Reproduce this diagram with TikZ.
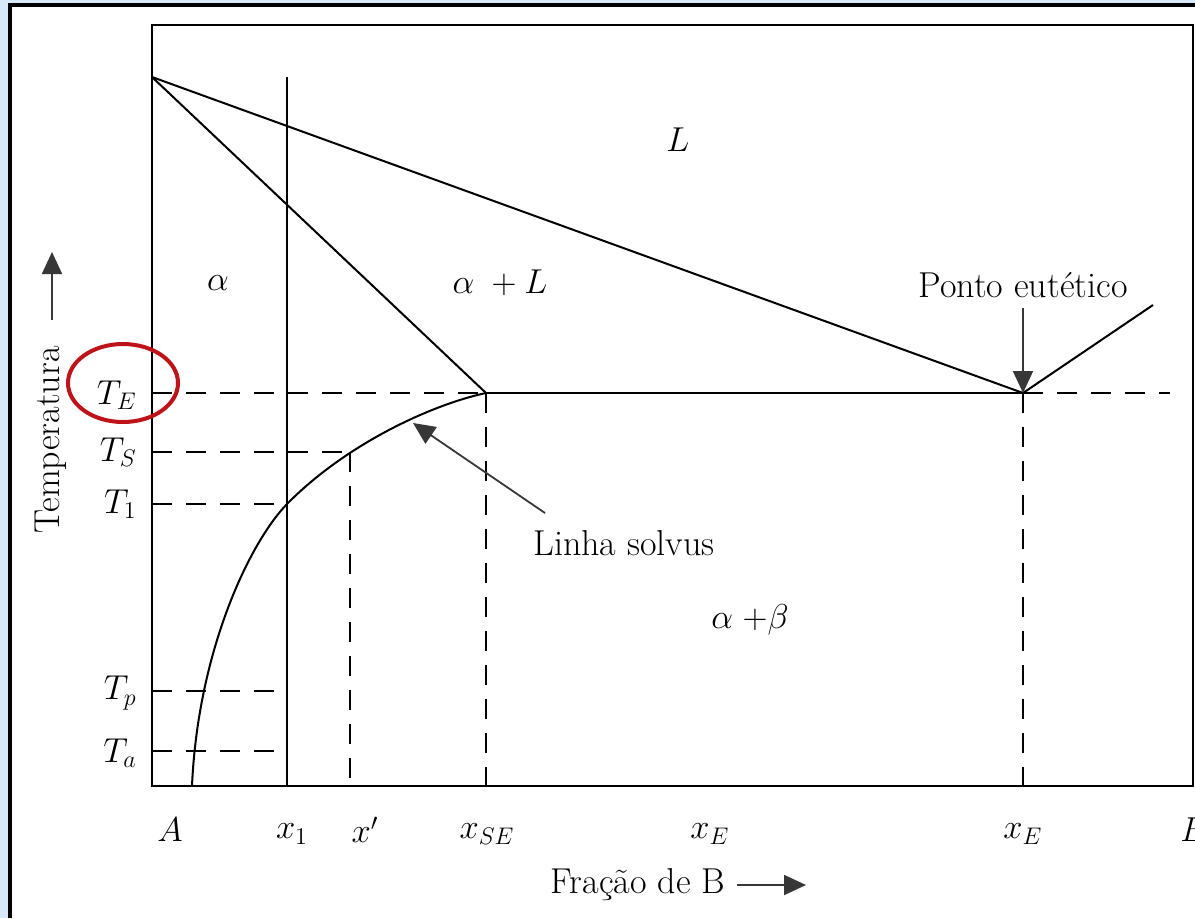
\documentclass[tikz,border=0pt]{standalone}
\usetikzlibrary{arrows.meta}
\definecolor{bgblue}{RGB}{214,232,250}
\definecolor{redc}{RGB}{190,20,25}
\definecolor{arrc}{RGB}{55,55,55}
\begin{document}
\begin{tikzpicture}[x=0.5pt,y=-0.5pt,
  lbl/.style={font=\fontsize{18}{20}\selectfont, inner sep=0pt},
  ln/.style={line width=1pt},
  dsh/.style={line width=1pt, dash pattern=on 10pt off 7pt},
  tri/.style={-{Triangle[length=11pt,width=10pt]}, line width=0.9pt, color=arrc}]
\useasboundingbox (0,0) rectangle (1195,918);
\fill[bgblue] (0,0) rectangle (1195,918);
\fill[white] (10,5) rectangle (1195,918);
\draw[line width=2pt] (1195,5) -- (10,5) -- (10,918);

% key coordinates
\coordinate (TL) at (152,25);
\coordinate (BR) at (1193,786);
\coordinate (A0) at (152,77);
\coordinate (E) at (1023,393);
\coordinate (SE) at (486,393);
\coordinate (SEb) at (486,786);
\coordinate (Eb) at (1023,786);
\coordinate (Er) at (1170,393);
\coordinate (Rl) at (1153,305);
\coordinate (X1t) at (287,77);
\coordinate (X1b) at (287,786);
\coordinate (TEl) at (152,393);
\coordinate (TSl) at (152,452);
\coordinate (TSr) at (350,452);
\coordinate (XPb) at (350,786);
\coordinate (T1l) at (152,504);
\coordinate (T1r) at (287,504);
\coordinate (Tpl) at (152,691);
\coordinate (Tpr) at (287,691);
\coordinate (Tal) at (152,751);
\coordinate (Tar) at (287,751);
\coordinate (Sb) at (192,786);

% frame
\draw[ln] (TL) rectangle (BR);

% phase lines
\draw[ln] (A0) -- (E);
\draw[ln] (A0) -- (SE);
\draw[ln] (SE) -- (E);
\draw[ln] (E) -- (Rl);
\draw[ln] (X1t) -- (X1b);
% solvus line
\draw[ln] (SE) .. controls (430,405) and (345,445) .. (T1r)
               .. controls (250,542) and (198,650) .. (Sb);

% dashed lines
\draw[dsh] (TEl) -- (SE);
\draw[dsh] (E) -- (Er);
\draw[dsh] (SE) -- (SEb);
\draw[dsh] (E) -- (Eb);
\draw[dsh] (TSl) -- (TSr);
\draw[dsh] (TSr) -- (XPb);
\draw[dsh] (T1l) -- (T1r);
\draw[dsh] (Tpl) -- (Tpr);
\draw[dsh] (Tal) -- (Tar);

% labels in the diagram
\node[lbl] (L) at (678,140) {$L$};
\node[lbl] (alpha) at (218,283) {$\alpha$};
\node[lbl] (alphaL) at (500,283) {$\alpha\;+L$};
\node[lbl] (alphabeta) at (750,620) {$\alpha\;{+}\beta$};
\node[lbl] (ponto) at (1023,285) {Ponto eutético};
\node[lbl] (solvus) at (624,543) {Linha solvus};

% arrows
\coordinate (Pt) at (1023,308);
\draw[tri] (Pt) -- (E);
\coordinate (St) at (545,513);
\coordinate (Sh) at (413,423);
\draw[tri] (St) -- (Sh);

% temperature labels
\node[lbl, anchor=east] (TE) at (137,395) {$T_E$};
\node[lbl, anchor=east] (TS) at (137,452) {$T_S$};
\node[lbl, anchor=east] (T1) at (137,504) {$T_1$};
\node[lbl, anchor=east] (Tp) at (137,693) {$T_p$};
\node[lbl, anchor=east] (Ta) at (137,753) {$T_a$};
\draw[redc, line width=2pt] (123,383) ellipse [x radius=27.5pt, y radius=19.5pt];

% axis titles
\node[lbl, rotate=90] (temp) at (51,440) {Temperatura};
\coordinate (Tt) at (52,320);
\coordinate (Th) at (52,252);
\draw[tri] (Tt) -- (Th);
\node[lbl] (frac) at (638,885) {Fração de B};
\coordinate (Ft) at (737,885);
\coordinate (Fh) at (806,885);
\draw[tri] (Ft) -- (Fh);

% bottom labels
\node[lbl] (A) at (170,830) {$A$};
\node[lbl] (x1) at (292,834) {$x_1$};
\node[lbl] (xp) at (365,830) {$x'$};
\node[lbl] (xSE) at (487,834) {$x_{SE}$};
\node[lbl] (xE1) at (710,834) {$x_E$};
\node[lbl] (xE2) at (1023,834) {$x_E$};
\node[lbl, anchor=west] (B) at (1180,830) {$B$};
\end{tikzpicture}
\end{document}
